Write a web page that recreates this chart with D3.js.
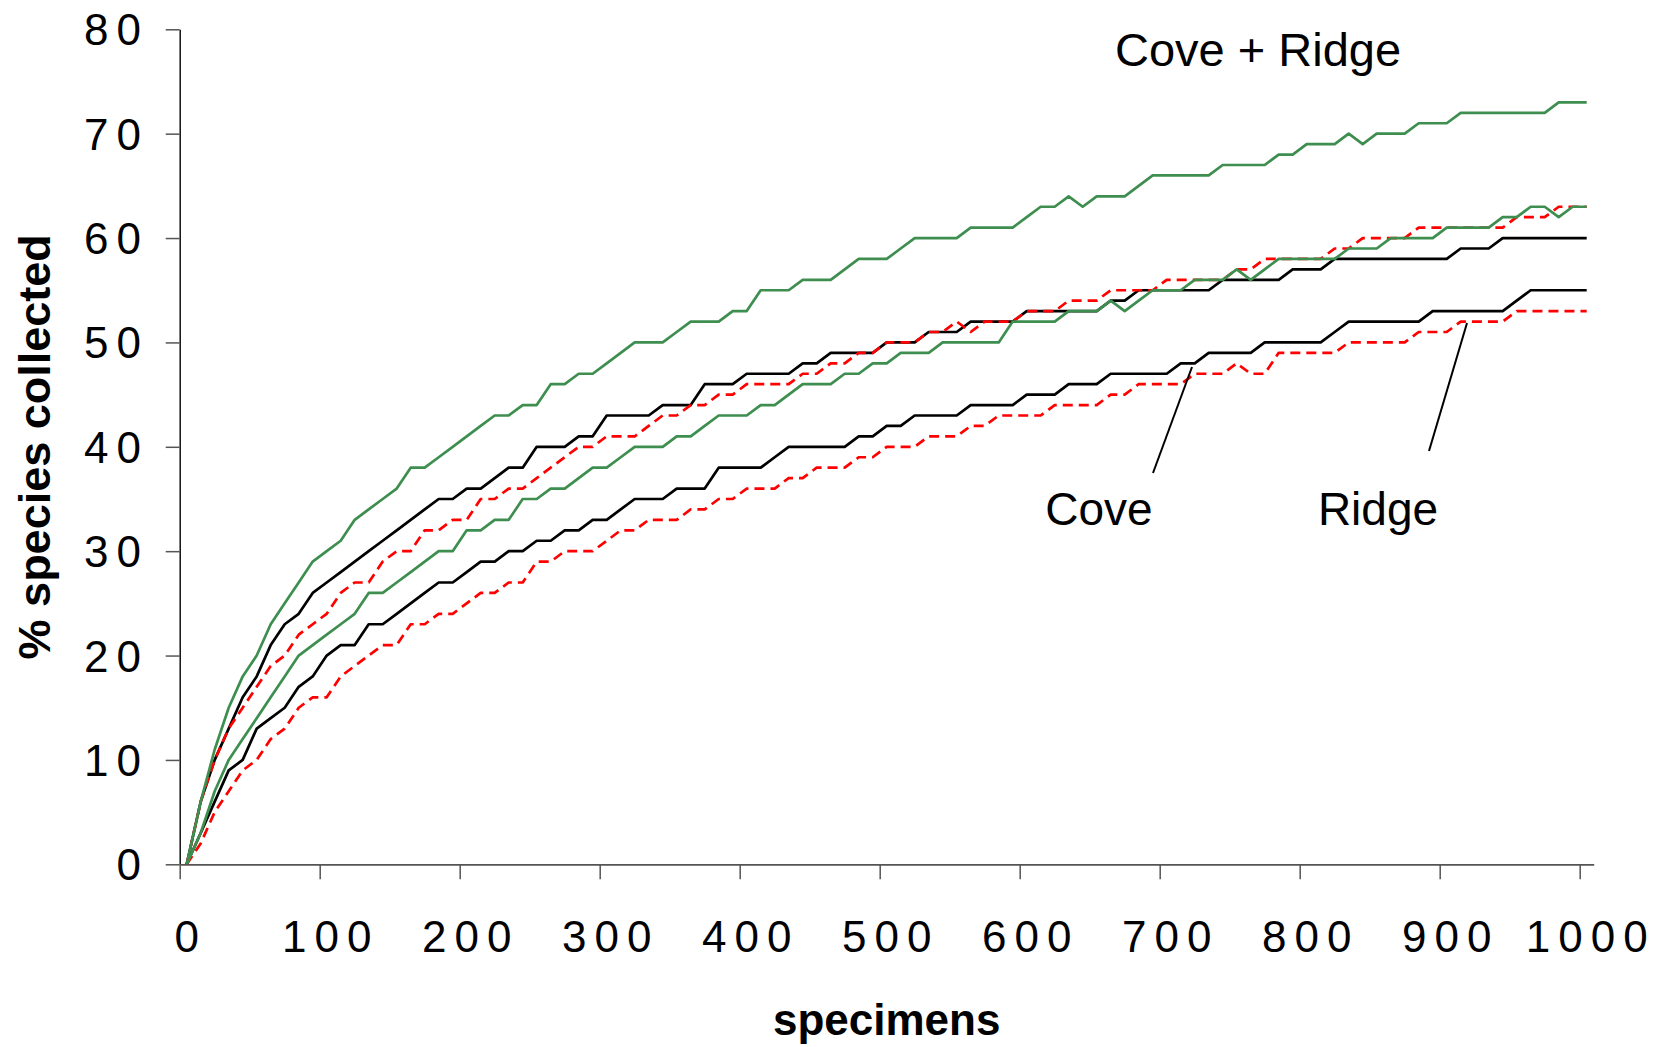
<!DOCTYPE html>
<html>
<head>
<meta charset="utf-8">
<script src="https://cdn.jsdelivr.net/npm/d3@7"></script>
<style>
  html, body { margin: 0; padding: 0; background: #ffffff; }
  svg { display: block; }
  text { font-family: "Liberation Sans", Arial, sans-serif; fill: #000; }
</style>
</head>
<body>
<svg id="chart" width="1665" height="1047"></svg>
<script>
// Sample sizes (one category every 10 specimens)
const specimens = d3.range(0, 1001, 10);

// Cove + Ridge (green)
const combinedUpper = [0,6,11,15,18,20,23,25,27,29,30,31,33,34,35,36,38,38,39,40,41,42,43,43,44,44,46,46,47,47,48,49,50,50,50,51,52,52,52,53,53,55,55,55,56,56,56,57,58,58,58,59,60,60,60,60,61,61,61,61,62,63,63,64,63,64,64,64,65,66,66,66,66,66,67,67,67,67,68,68,69,69,69,70,69,70,70,70,71,71,71,72,72,72,72,72,72,72,73,73,73];
const combinedLower = [0,3,7,10,12,14,16,18,20,21,22,23,24,26,26,27,28,29,30,30,32,32,33,33,35,35,36,36,37,38,38,39,40,40,40,41,41,42,43,43,43,44,44,45,46,46,46,47,47,48,48,49,49,49,50,50,50,50,50,52,52,52,52,53,53,53,54,53,54,55,55,55,56,56,56,57,56,57,58,58,58,58,58,59,59,59,60,60,60,60,61,61,61,61,62,62,63,63,62,63,63];

// Cove (black)
const coveUpper = [0,6,10,13,16,18,21,23,24,26,27,28,29,30,31,32,33,34,35,35,36,36,37,38,38,40,40,40,41,41,43,43,43,43,44,44,44,46,46,46,47,47,47,47,48,48,49,49,49,49,50,50,50,51,51,51,52,52,52,52,53,53,53,53,53,53,54,54,55,55,55,55,55,55,56,56,56,56,56,57,57,57,58,58,58,58,58,58,58,58,58,59,59,59,60,60,60,60,60,60,60];
const coveLower = [0,3,6,9,10,13,14,15,17,18,20,21,21,23,23,24,25,26,27,27,28,29,29,30,30,31,31,32,32,33,33,34,35,35,35,36,36,36,38,38,38,38,39,40,40,40,40,40,41,41,42,42,43,43,43,43,44,44,44,44,45,45,45,46,46,46,47,47,47,47,47,48,48,49,49,49,49,50,50,50,50,50,51,52,52,52,52,52,52,53,53,53,53,53,53,54,55,55,55,55,55];

// Ridge (red, dashed)
const ridgeUpper = [0,6,10,13,15,17,19,20,22,23,24,26,27,27,29,30,30,32,32,33,33,35,35,36,36,37,38,39,40,40,41,41,41,42,43,43,44,44,45,45,46,46,46,46,47,47,48,48,49,49,50,50,50,51,51,52,51,52,52,52,53,53,53,54,54,54,55,55,55,55,56,56,56,56,56,57,57,58,58,58,58,58,59,59,60,60,60,60,61,61,61,61,61,61,61,62,62,62,63,63,63];
const ridgeLower = [0,2,5,7,9,10,12,13,15,16,16,18,19,20,21,21,23,23,24,24,25,26,26,27,27,29,29,30,30,30,31,32,32,33,33,33,34,34,35,35,36,36,36,37,37,38,38,38,39,39,40,40,40,41,41,41,42,42,43,43,43,43,44,44,44,44,45,45,46,46,46,46,47,47,47,48,47,47,49,49,49,49,49,50,50,50,50,50,51,51,51,52,52,52,52,53,53,53,53,53,53];

const xTickLabels = [0,100,200,300,400,500,600,700,800,900,1000];
const yTickLabels = [0,10,20,30,40,50,60,70,80];

const svg = d3.select("#chart");

// Category axis: each category is 10 specimens wide, ticks sit between categories
const x = d3.scaleLinear().domain([-5, 1005]).range([179.7, 1593.7]);
const y = d3.scaleLinear().domain([0, 80]).range([864.3, 29.3]);

// Y axis
const yAxis = svg.append("g")
  .attr("transform", `translate(${x(-5)},0)`)
  .call(d3.axisLeft(y).tickValues(yTickLabels).tickSize(14).tickSizeOuter(0).tickFormat(""));
yAxis.select(".domain").attr("stroke", "#000").attr("stroke-width", 1.4);
yAxis.selectAll(".tick line").attr("stroke", "#555").attr("stroke-width", 1.5);

// X axis (tick marks at category boundaries)
const xAxis = svg.append("g")
  .attr("transform", `translate(0,${y(0)})`)
  .call(d3.axisBottom(x).tickValues(xTickLabels.map(v => v - 5)).tickSize(15).tickSizeOuter(0).tickFormat(""));
xAxis.select(".domain").attr("stroke", "#555").attr("stroke-width", 1.8);
xAxis.selectAll(".tick line").attr("stroke", "#555").attr("stroke-width", 1.5);

// Tick labels
const tickFont = 44, tickSpacing = 8;
svg.append("g").selectAll("text")
  .data(yTickLabels).join("text")
  .attr("x", 141 + tickSpacing)
  .attr("y", d => y(d) + 16)
  .attr("text-anchor", "end")
  .attr("font-size", tickFont)
  .attr("letter-spacing", tickSpacing)
  .text(d => d);

svg.append("g").selectAll("text")
  .data(xTickLabels).join("text")
  .attr("x", d => x(d) + tickSpacing / 2)
  .attr("y", y(0) + 88)
  .attr("text-anchor", "middle")
  .attr("font-size", tickFont)
  .attr("letter-spacing", tickSpacing)
  .text(d => d);

// Axis titles
svg.append("text")
  .attr("transform", `translate(50,${(y(0) + y(80)) / 2}) rotate(-90)`)
  .attr("text-anchor", "middle")
  .attr("font-size", 45)
  .attr("font-weight", "bold")
  .text("% species collected");

svg.append("text")
  .attr("x", (x(-5) + x(1005)) / 2)
  .attr("y", 1035)
  .attr("text-anchor", "middle")
  .attr("font-size", 44)
  .attr("font-weight", "bold")
  .text("specimens");

// Curves
const line = d3.line()
  .x((d, i) => x(specimens[i]))
  .y(d => y(d));

const series = [
  { values: coveUpper, color: "#000000", dash: null },
  { values: coveLower, color: "#000000", dash: null },
  { values: ridgeUpper, color: "#ff0000", dash: "10,6" },
  { values: ridgeLower, color: "#ff0000", dash: "10,6" },
  { values: combinedUpper, color: "#3e8e50", dash: null },
  { values: combinedLower, color: "#3e8e50", dash: null }
];

svg.append("g").selectAll("path")
  .data(series).join("path")
  .attr("d", d => line(d.values))
  .attr("fill", "none")
  .attr("stroke", d => d.color)
  .attr("stroke-width", 2.7)
  .attr("stroke-dasharray", d => d.dash)
  .attr("stroke-linejoin", "round");

// Labels and leader lines
svg.append("text")
  .attr("x", 1115).attr("y", 66)
  .attr("font-size", 47)
  .text("Cove + Ridge");

svg.append("text")
  .attr("x", 1099).attr("y", 525)
  .attr("text-anchor", "middle")
  .attr("font-size", 46)
  .text("Cove");

svg.append("text")
  .attr("x", 1378).attr("y", 525)
  .attr("text-anchor", "middle")
  .attr("font-size", 46)
  .text("Ridge");

const leaders = [
  { from: [1153, 473], to: [1192, 367] },
  { from: [1429, 451], to: [1467, 323] }
];
svg.append("g").selectAll("line")
  .data(leaders).join("line")
  .attr("x1", d => d.from[0]).attr("y1", d => d.from[1])
  .attr("x2", d => d.to[0]).attr("y2", d => d.to[1])
  .attr("stroke", "#000")
  .attr("stroke-width", 2);
</script>
</body>
</html>
